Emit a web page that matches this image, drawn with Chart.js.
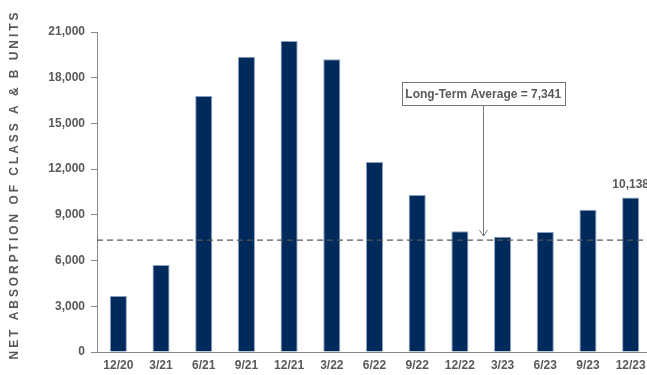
<!DOCTYPE html>
<html>
<head>
<meta charset="utf-8">
<script src="https://cdn.jsdelivr.net/npm/chart.js@4.4.1/dist/chart.umd.min.js"></script>
<style>
    html, body { margin: 0; padding: 0; background: #fff; overflow: hidden; }
    #wrap { width: 652px; height: 375px; }
</style>
</head>
<body>
<div id="wrap"><canvas id="absorptionChart" width="652" height="375"></canvas></div>
<script>
    const quarters = ["12/20", "3/21", "6/21", "9/21", "12/21", "3/22", "6/22", "9/22", "12/22", "3/23", "6/23", "9/23", "12/23"];
    const absorption = [3680, 5710, 16800, 19380, 20410, 19210, 12470, 10300, 7920, 7570, 7880, 9340, 10138];
    const yTicks = [0, 3000, 6000, 9000, 12000, 15000, 18000, 21000];
    const longTermAverage = 7341;
    const axisTitle = "NET ABSORPTION OF CLASS A & B UNITS";

    const labelFont = "'Liberation Sans Narrow', 'Liberation Sans', Arial, sans-serif";
    const gray = "#595959";

    /*
     * Extras: rotated axis title, average line, callout box, last value label */
    const extras = {
        id: "extras",
        afterDatasetsDraw(chart) {
            const { ctx, chartArea, scales } = chart;
            const x = scales.x;
            const y = scales.y;

            // dashed average line
            const yAvg = y.getPixelForValue(longTermAverage);
            ctx.save();
            ctx.strokeStyle = "#555";
            ctx.lineWidth = 1.2;
            ctx.setLineDash([6, 4]);
            ctx.beginPath();
            ctx.moveTo(chartArea.left, yAvg);
            ctx.lineTo(chart.width, yAvg);
            ctx.stroke();
            ctx.restore();

            // callout box with arrow, between 12/22 and 3/23
            const cx = (x.getPixelForValue(8) + x.getPixelForValue(9)) / 2 + 2;
            const boxTop = y.getPixelForValue(17720);
            const boxBottom = y.getPixelForValue(16220);
            const text = "Long-Term Average = " + longTermAverage.toLocaleString("en-US");
            ctx.save();
            ctx.font = "bold 12px " + labelFont;
            const w = 163;
            ctx.fillStyle = "#fff";
            ctx.fillRect(cx - w / 2 - 0.5, boxTop, w, boxBottom - boxTop);
            ctx.strokeStyle = "#777";
            ctx.lineWidth = 1;
            ctx.strokeRect(Math.round(cx - w / 2) + 0.5, Math.round(boxTop) + 0.5, w, Math.round(boxBottom - boxTop));
            ctx.fillStyle = gray;
            ctx.textAlign = "center";
            ctx.textBaseline = "middle";
            ctx.fillText(text, cx, (boxTop + boxBottom) / 2 + 1);

            const ax = Math.round(cx) + 0.5;
            const tip = yAvg - 4;
            ctx.strokeStyle = "#777";
            ctx.beginPath();
            ctx.moveTo(ax, boxBottom + 1);
            ctx.lineTo(ax, tip);
            ctx.moveTo(ax - 4, tip - 6);
            ctx.lineTo(ax, tip);
            ctx.lineTo(ax + 4, tip - 6);
            ctx.stroke();
            ctx.restore();

            // value label over last bar
            const last = absorption.length - 1;
            const bar = chart.getDatasetMeta(0).data[last];
            ctx.save();
            ctx.font = "bold 12px " + labelFont;
            ctx.fillStyle = gray;
            ctx.textAlign = "center";
            ctx.textBaseline = "bottom";
            ctx.fillText(absorption[last].toLocaleString("en-US"), bar.x, bar.y - 7);
            ctx.restore();

            // y axis title, letters spread to fill the height
            ctx.save();
            ctx.translate(15, 186);
            ctx.rotate(-Math.PI / 2);
            ctx.font = "bold 12px 'Liberation Sans', Arial, sans-serif";
            const plain = ctx.measureText(axisTitle).width;
            const spacing = (350 - plain) / axisTitle.length;
            ctx.letterSpacing = spacing.toFixed(2) + "px";
            ctx.fillStyle = gray;
            ctx.textAlign = "center";
            ctx.textBaseline = "middle";
            ctx.fillText(axisTitle, spacing / 2, 0);
            ctx.restore();
        },
    };

    const ctx = document.getElementById("absorptionChart");

    new Chart(ctx, {
        type: "bar",
        data: {
            labels: quarters,
            datasets: [
                {
                    label: "Net Absorption",
                    data: absorption,
                    backgroundColor: "#012a5c",
                    borderColor: "#8aa0bd",
                    borderWidth: { top: 1, left: 1, right: 1, bottom: 0 },
                    barPercentage: 0.4,
                    categoryPercentage: 1,
                },
            ],
        },
        options: {
            responsive: false,
            animation: false,
            layout: { padding: { left: 30, top: 32, right: 0, bottom: 0 } },
            plugins: {
                legend: { display: false },
                tooltip: { enabled: false },
            },
            scales: {
                x: {
                    grid: { display: false, drawTicks: false },
                    border: { color: "#888", width: 1 },
                    ticks: {
                        color: gray,
                        font: { family: labelFont, size: 12, weight: "bold" },
                        padding: 6,
                        maxRotation: 0,
                        autoSkip: false,
                    },
                    afterFit(scale) { scale.height = 23; },
                },
                y: {
                    min: 0,
                    max: 21000,
                    afterBuildTicks(scale) {
                        scale.ticks = yTicks.map((v) => ({ value: v }));
                    },
                    grid: { drawOnChartArea: false, tickLength: 6, color: "#888" },
                    border: { color: "#888", width: 1 },
                    ticks: {
                        color: gray,
                        font: { family: labelFont, size: 12, weight: "bold" },
                        padding: 6,
                        callback: (v) => v.toLocaleString("en-US"),
                    },
                    afterFit(scale) { scale.width = 67; },
                },
            },
        },
        plugins: [extras],
    });
</script>
</body>
</html>
